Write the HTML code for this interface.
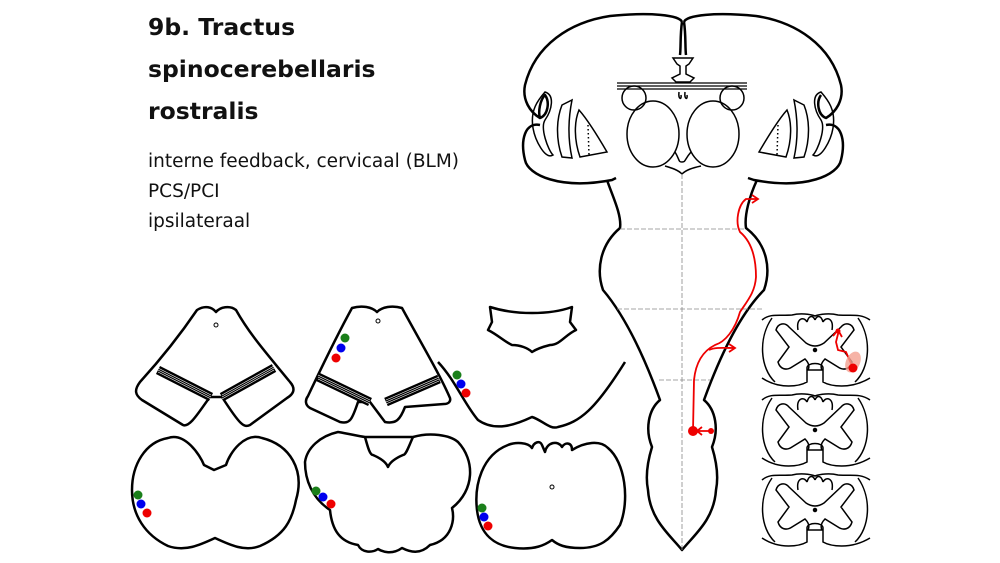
<!DOCTYPE html>
<html><head><meta charset="utf-8"><style>
html,body{margin:0;padding:0;background:#fff;}
body{width:1000px;height:563px;overflow:hidden;position:relative;font-family:"DejaVu Sans",sans-serif;}
.t{position:absolute;left:148px;font-weight:bold;font-size:23.5px;color:#111;}
.s{position:absolute;left:148px;font-size:18.5px;color:#111;}
svg{position:absolute;left:0;top:0;}
</style></head><body>
<div class="t" style="top:13px">9b. Tractus</div>
<div class="t" style="top:55px">spinocerebellaris</div>
<div class="t" style="top:97px">rostralis</div>
<div class="s" style="top:151px">interne feedback, cervicaal (BLM)</div>
<div class="s" style="top:181px">PCS/PCI</div>
<div class="s" style="top:211px">ipsilateraal</div>
<svg width="1000" height="563" viewBox="0 0 1000 563">
<g fill="none" stroke="#000" stroke-width="2.5" stroke-linejoin="round">
<path d="M682,22 C680,15 650,12 610,16 C570,22 535,45 525,85 C522,100 530,112 540,118 C548,115 550,102 545,95 C540,100 538,112 540,118 M540,125 C525,122 520,140 525,160 C528,175 560,190 612,180 L616,178"/>
<path d="M684,22 C686,15 716,12 756,16 C796,22 831,45 841,85 C844,100 836,112 826,118 C818,115 816,102 821,95 M826,125 C841,122 846,140 841,160 C838,175 806,190 754,180 L748,178"/>
<path d="M682,22 C680,35 681,48 680,55 M684,22 C686,35 685,48 686,55"/>
<path d="M607,180 C612,195 622,215 620,228 C600,245 596,270 603,290 C620,310 640,345 660,400 C648,410 645,430 652,447 C648,460 645,475 648,490 C650,520 670,535 682,550 C694,535 714,520 716,490 C719,475 716,460 712,447 C719,430 716,410 704,400 C724,345 744,310 764,290 C771,270 768,245 746,228 C744,215 750,195 757,180"/>
</g>
<g fill="none" stroke="#000" stroke-width="1.5">
<path d="M545,92 C555,95 552,110 545,120 C540,128 548,150 553,155 C545,160 535,140 533,128 C530,110 538,100 545,92Z"/>
<path d="M821,92 C811,95 814,110 821,120 C826,128 818,150 813,155 C821,160 831,140 833,128 C836,110 828,100 821,92Z"/>
<path d="M562,105 L572,100 C568,120 568,140 572,158 L562,157 C556,140 556,120 562,105Z"/>
<path d="M579,110 C588,120 600,140 607,152 L580,157 C574,140 574,122 579,110Z"/>
<path d="M804,105 L794,100 C798,120 798,140 794,158 L804,157 C810,140 810,120 804,105Z"/>
<path d="M787,110 C778,120 766,140 759,152 L786,157 C792,140 792,122 787,110Z"/>
<path d="M588,125 L589,155 M778,125 L777,155" stroke-dasharray="1.5,2.5"/>
<path d="M673,58 L693,58 L689,64 L686,66 L686,74 L694,78 L690,82 L676,82 L672,78 L680,74 L680,66 L677,64Z"/>
<path d="M617,83 L747,83 M617,86 L747,86 M617,89 L747,89" stroke-width="1.2"/>
<circle cx="634" cy="98" r="12"/><circle cx="732" cy="98" r="12"/>
<ellipse cx="653" cy="134" rx="26" ry="33"/><ellipse cx="713" cy="134" rx="26" ry="33"/>
<path d="M675,152 C680,160 678,162 682,162 C686,162 684,160 691,152 M665,166 C672,168 678,170 682,174 C686,170 692,168 701,166"/>
<path d="M679,92 C678,100 682,100 681,95 M685,92 C684,100 688,100 687,95"/>
</g>
<g stroke="#888" stroke-width="0.8" stroke-dasharray="5,2">
<path d="M682,174 L682,550"/>
<path d="M620,229 L745,229 M617,309 L763,309 M659,380 L710,380"/>
</g>
<defs>
<g id="sc" fill="none" stroke="#000" stroke-width="1.5">
<path d="M762,320 C770,313 780,316 792,315 C800,313 810,314 815,316 C820,314 830,313 838,315 C850,316 860,313 870,320"/>
<path d="M772,318 C758,338 760,368 775,382 M858,318 C872,338 870,368 855,382"/>
<path d="M762,378 C780,390 800,386 807,382 L807,368 C807,362 823,362 823,368 L823,382 C830,386 850,390 870,378"/>
<path d="M806,343 L789,327 C785,322 778,323 776,330 L789,347 L778,362 C780,369 786,371 792,367 L805,359 C808,362 810,366 808,370 L822,370 C820,366 822,362 825,359 L838,367 C844,371 850,369 852,362 L841,347 L854,330 C852,323 845,322 841,327 L824,343 C818,347 812,347 806,343Z"/>
<path d="M798,330 C796,318 804,316 807,322 M807,322 C809,315 813,315 815,320 M815,320 C817,315 821,315 823,322 M823,322 C826,316 834,318 832,330"/>
<circle cx="815" cy="350" r="1.5" fill="#000"/>
</g>
</defs>
<use href="#sc"/>
<use href="#sc" transform="translate(0,80)"/>
<use href="#sc" transform="translate(0,160)"/>
<g fill="none" stroke="#000" stroke-width="2.5" stroke-linejoin="round">
<path d="M197,310 C205,305 212,307 216,312 C220,307 230,305 236,310 C250,335 268,355 290,382 C297,390 292,395 287,398 L250,425 C244,428 240,425 222,397 L210,397 C200,410 190,428 183,425 L142,400 C135,395 134,390 140,382 C160,360 180,335 197,310Z"/>
<path d="M352,308 C362,305 372,307 377,312 C382,307 392,305 402,308 C425,350 440,375 450,398 C451,402 448,404 444,404 L405,407 C400,420 396,424 385,422 L370,402 L358,402 C352,420 350,424 340,422 L310,408 C305,405 305,400 308,396 C325,360 340,330 352,308Z"/>
<path d="M490,307 C515,315 550,315 572,307 L570,322 L576,330 C565,335 560,345 550,345 C542,347 535,350 532,352 C528,348 520,345 512,345 C505,342 498,335 488,330 L492,322Z"/>
<path d="M438,362 C455,380 465,405 478,420 C495,432 515,425 532,417 C542,420 550,430 558,427 C580,422 595,410 625,362"/>
<path d="M168,438 C185,432 200,455 204,465 L214,470 L226,465 C230,452 245,432 262,438 C290,445 305,470 296,500 C292,520 285,535 260,546 C245,552 230,545 215,538 C200,545 185,552 168,546 C145,535 132,515 132,490 C132,465 145,442 168,438Z"/>
<path d="M338,432 C350,434 358,436 365,437 L413,437 C430,432 450,435 458,442 C475,460 475,490 452,508 C455,520 452,540 430,545 C420,555 410,552 402,548 C392,555 383,552 378,549 C372,553 362,553 358,545 C340,542 332,530 330,510 C312,498 305,480 305,462 C307,448 320,436 338,432Z"/>
<path d="M365,437 C368,448 370,455 373,455 C380,458 386,462 388,467 C390,462 396,458 403,455 C406,455 408,448 413,437"/>
<path d="M508,445 C515,442 528,442 532,448 C534,442 540,440 542,445 L545,452 C547,442 558,440 562,447 C565,442 572,442 572,450 C585,442 600,440 608,448 C625,462 630,500 620,525 C610,540 600,548 580,548 C565,548 558,545 552,540 C545,545 535,550 515,548 C495,546 480,535 477,510 C474,485 482,455 508,445Z"/>
</g>
<g stroke="#000" stroke-width="9" fill="none">
<path d="M158,370 L211,397 M274,368 L222,397 M318,377 L370,402 M439,379 L386,402"/>
</g>
<g stroke="#fff" stroke-width="0.6" fill="none">
<path d="M158,368 L211,395 M158,370 L211,397 M158,372 L211,399 M274,366 L222,395 M274,368 L222,397 M274,370 L222,399 M318,375 L370,400 M318,377 L370,402 M318,379 L370,404 M439,377 L386,400 M439,379 L386,402 M439,381 L386,404"/>
</g>
<g fill="none" stroke="#000" stroke-width="1"><circle cx="216" cy="325" r="2"/><circle cx="378" cy="321" r="2"/><circle cx="552" cy="487" r="2"/></g>
<g>
<circle cx="345" cy="338" r="4.5" fill="#1a7f1a"/><circle cx="341" cy="348" r="4.5" fill="#0000ee"/><circle cx="336" cy="358" r="4.5" fill="#ee0000"/>
<circle cx="457" cy="375" r="4.5" fill="#1a7f1a"/><circle cx="461" cy="384" r="4.5" fill="#0000ee"/><circle cx="466" cy="393" r="4.5" fill="#ee0000"/>
<circle cx="138" cy="495" r="4.5" fill="#1a7f1a"/><circle cx="141" cy="504" r="4.5" fill="#0000ee"/><circle cx="147" cy="513" r="4.5" fill="#ee0000"/>
<circle cx="316" cy="491" r="4.5" fill="#1a7f1a"/><circle cx="323" cy="497" r="4.5" fill="#0000ee"/><circle cx="331" cy="504" r="4.5" fill="#ee0000"/>
<circle cx="482" cy="508" r="4.5" fill="#1a7f1a"/><circle cx="484" cy="517" r="4.5" fill="#0000ee"/><circle cx="488" cy="526" r="4.5" fill="#ee0000"/>
</g>
<g fill="none" stroke="#e00" stroke-width="1.8">
<path d="M693,431 L694,380 C696,360 705,350 715,345 C725,342 735,330 740,312 C748,300 755,292 756,277 C756,258 752,242 740,232 C735,222 738,205 746,199 L758,199"/>
<path d="M752,195 L758,199 L752,203"/>
<path d="M709,350 C715,347 725,348 735,348 M729,344 L735,348 L729,352"/>
<path d="M710,431 L697,431 M702,427 L697,431 L702,435"/>
<path d="M853,368 L846,352 L838,350 L836,342 L839,330 M833,336 L838,330 L842,337"/>
</g>
<ellipse cx="853" cy="362" rx="7" ry="11" fill="#f4a090" opacity="0.8" transform="rotate(25 853 362)"/>
<circle cx="853" cy="368" r="4.5" fill="#e00"/>
<circle cx="693" cy="431" r="5" fill="#e00"/>
<circle cx="711" cy="431" r="3" fill="#e00"/>
<circle cx="838" cy="331" r="2.5" fill="#e00"/>
</svg>
</body></html>
